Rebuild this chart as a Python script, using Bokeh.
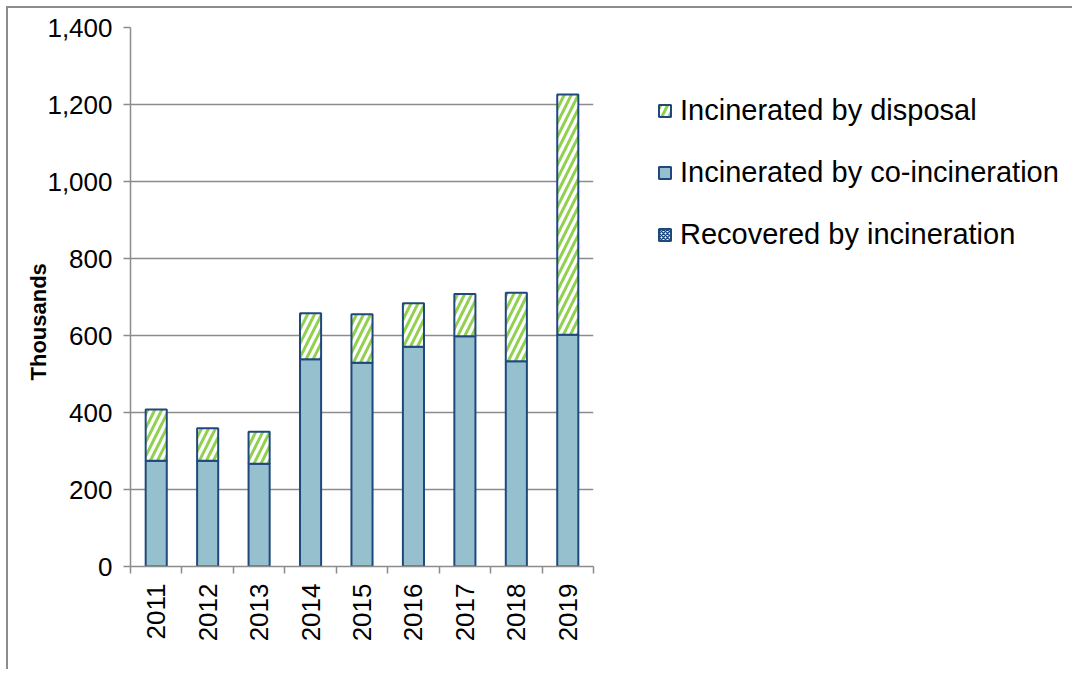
from bokeh.plotting import figure
from bokeh.models import (ColumnDataSource, FixedTicker, NumeralTickFormatter,
                          Legend, LegendItem, Range1d, Title)
from bokeh.embed import file_html
from bokeh.resources import INLINE
import math

years = ["2011", "2012", "2013", "2014", "2015", "2016", "2017", "2018", "2019"]
recovered = [0, 0, 0, 0, 0, 0, 0, 0, 0]
co_incineration = [275, 275, 267, 538, 529, 571, 598, 533, 602]
disposal = [133, 84, 83, 120, 126, 113, 110, 178, 624]
y_ticks = [0, 200, 400, 600, 800, 1000, 1200, 1400]

xpos = [i + 0.5 for i in range(len(years))]
src = ColumnDataSource(dict(x=xpos, rec=recovered, co=co_incineration, dis=disposal))

FONT = "Liberation Sans"
GRAY = "#8c8c8c"
NAVY = "#1f497d"

p = figure(frame_width=463, frame_height=539, output_backend="svg", toolbar_location=None,
           x_range=Range1d(0, len(years)), y_range=Range1d(0, 1400),
           min_border_left=122, min_border_right=477, min_border_top=19,
           min_border_bottom=103)
p.styles = {"margin-left": "6px", "margin-top": "6px",
            "border-left": "2px solid #8c8c8c", "border-top": "2px solid #8c8c8c"}
p.outline_line_color = None
p.background_fill_color = "white"
p.border_fill_color = "white"

renderers = p.vbar_stack(["rec", "co", "dis"], x="x", width=0.41, source=src,
                         fill_color=["white", "#96c0ce", "white"],
                         line_color=NAVY, line_width=2,
                         hatch_pattern=["diagonal_cross", " ", "right_diagonal_line"],
                         hatch_color=[NAVY, NAVY, "#92d050"],
                         hatch_scale=[4, 1, 14], hatch_weight=[1.5, 1, 3])

# y axis
p.yaxis.ticker = FixedTicker(ticks=y_ticks)
p.yaxis.formatter = NumeralTickFormatter(format="0,0")
p.yaxis.axis_line_color = GRAY
p.yaxis.axis_line_width = 1.5
p.yaxis.major_tick_line_color = GRAY
p.yaxis.major_tick_line_width = 1.5
p.yaxis.major_tick_out = 7
p.yaxis.major_tick_in = 0
p.yaxis.minor_tick_line_color = None
p.yaxis.major_label_text_font = FONT
p.yaxis.major_label_text_font_size = "26px"
p.yaxis.major_label_text_color = "black"
p.yaxis.major_label_standoff = 11

# y axis title, placed like the reference (a little below the frame centre)
ytitle = Title(text="Thousands", align="left", offset=186, standoff=-13,
               text_font=FONT, text_font_style="bold", text_font_size="22px",
               text_color="black")
p.add_layout(ytitle, "left")

# x axis
p.xaxis.ticker = FixedTicker(ticks=xpos, minor_ticks=list(range(len(years) + 1)))
p.xaxis.major_label_overrides = {x: y for x, y in zip(xpos, years)}
p.xaxis.major_label_orientation = math.pi / 2
p.xaxis.axis_line_color = GRAY
p.xaxis.axis_line_width = 1.5
p.xaxis.major_tick_line_color = None
p.xaxis.minor_tick_line_color = GRAY
p.xaxis.minor_tick_line_width = 1.5
p.xaxis.minor_tick_out = 7
p.xaxis.minor_tick_in = 0
p.xaxis.major_label_text_font = FONT
p.xaxis.major_label_text_font_size = "26px"
p.xaxis.major_label_text_color = "black"
p.xaxis.major_label_standoff = 10

p.xgrid.grid_line_color = None
p.ygrid.grid_line_color = GRAY
p.ygrid.grid_line_width = 1.5

legend = Legend(items=[
    LegendItem(label="Incinerated by disposal", renderers=[renderers[2]]),
    LegendItem(label="Incinerated by co-incineration", renderers=[renderers[1]]),
    LegendItem(label="Recovered by incineration", renderers=[renderers[0]]),
], location=(64, 315), orientation="vertical")
legend.border_line_color = None
legend.background_fill_alpha = 0
legend.label_text_font = FONT
legend.label_text_font_size = "29px"
legend.label_text_color = "black"
legend.glyph_width = 15
legend.glyph_height = 15
legend.label_standoff = 8
legend.spacing = 29
legend.padding = 0
legend.margin = 0
p.add_layout(legend, "right")

open("out.html", "w").write(file_html(p, INLINE))
